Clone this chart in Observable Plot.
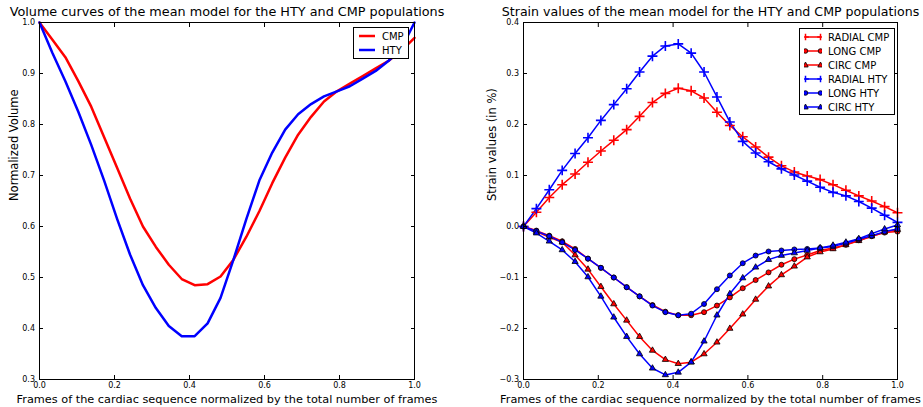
<!DOCTYPE html>
<html><head><meta charset="utf-8">
<script src="https://cdn.jsdelivr.net/npm/d3@7"></script>
<script src="https://cdn.jsdelivr.net/npm/@observablehq/plot@0.6"></script>
<style>
body{margin:0;background:#fff;font-family:"DejaVu Sans",sans-serif;}
#wrap{position:relative;width:923px;height:407px;display:flex;}
.legend{position:absolute;background:#fff;border:1px solid #000;font-size:10px;font-family:"DejaVu Sans",sans-serif;box-sizing:border-box;padding:1px 0;}
.legend .row{display:flex;align-items:center;height:14px;}
.legend svg{display:block;margin:0 6px 0 4px;}
</style></head><body><div id="wrap"></div>
<script>
// normalized frame positions (30 frames)
const frames = d3.range(30).map(i => i / 29);

// Left chart: normalized volume
const volCMP = [1.0,0.966,0.932,0.885,0.835,0.775,0.715,0.655,0.600,0.560,0.525,0.497,0.485,0.487,0.502,0.535,0.580,0.630,0.685,0.735,0.780,0.815,0.845,0.865,0.880,0.895,0.910,0.925,0.945,0.970];
const volHTY = [1.0,0.940,0.885,0.825,0.760,0.690,0.615,0.545,0.485,0.440,0.405,0.385,0.385,0.410,0.460,0.535,0.615,0.690,0.745,0.790,0.820,0.840,0.855,0.865,0.875,0.890,0.905,0.925,0.950,1.0];

// Right chart: strain values
const radialCMP = [0,0.028,0.057,0.082,0.103,0.126,0.148,0.169,0.190,0.216,0.243,0.261,0.271,0.266,0.252,0.224,0.198,0.176,0.156,0.136,0.119,0.107,0.099,0.092,0.082,0.071,0.060,0.050,0.039,0.027];
const longCMP = [0,-0.008,-0.018,-0.029,-0.044,-0.063,-0.081,-0.100,-0.119,-0.137,-0.154,-0.167,-0.174,-0.174,-0.168,-0.155,-0.139,-0.121,-0.105,-0.090,-0.075,-0.064,-0.056,-0.047,-0.042,-0.036,-0.027,-0.019,-0.012,-0.010];
const circCMP = [0,-0.010,-0.021,-0.031,-0.056,-0.084,-0.118,-0.152,-0.184,-0.216,-0.243,-0.261,-0.269,-0.266,-0.250,-0.227,-0.200,-0.172,-0.143,-0.117,-0.095,-0.078,-0.060,-0.050,-0.044,-0.036,-0.028,-0.019,-0.011,-0.006];
const radialHTY = [0,0.035,0.072,0.110,0.143,0.174,0.208,0.239,0.270,0.303,0.334,0.354,0.358,0.340,0.303,0.254,0.205,0.167,0.144,0.127,0.113,0.101,0.089,0.077,0.067,0.060,0.049,0.036,0.022,0.008];
const longHTY = [0,-0.009,-0.019,-0.031,-0.046,-0.063,-0.081,-0.100,-0.119,-0.137,-0.155,-0.168,-0.174,-0.171,-0.152,-0.123,-0.096,-0.072,-0.057,-0.049,-0.047,-0.045,-0.044,-0.042,-0.039,-0.033,-0.025,-0.018,-0.010,-0.005];
const circHTY = [0,-0.013,-0.029,-0.046,-0.069,-0.099,-0.137,-0.178,-0.216,-0.250,-0.278,-0.291,-0.286,-0.266,-0.225,-0.174,-0.132,-0.101,-0.080,-0.065,-0.057,-0.052,-0.047,-0.042,-0.037,-0.031,-0.024,-0.014,-0.005,0.003];

const xTicks = [0.0,0.2,0.4,0.6,0.8,1.0];
const yTicksL = [0.3,0.4,0.5,0.6,0.7,0.8,0.9,1.0];
const yTicksR = [-0.3,-0.2,-0.1,0.0,0.1,0.2,0.3,0.4];

const titleL = "Volume curves of the mean model for the HTY and CMP populations";
const titleR = "Strain values of the mean model for the HTY and CMP populations";
const xLabel = "Frames of the cardiac sequence normalized by the total number of frames";
const yLabelL = "Normalized Volume";
const yLabelR = "Strain values (in %)";

const fmt = d3.format(".1f");

const volSeries = [
  {name:"CMP", color:"#ff0000", values: volCMP},
  {name:"HTY", color:"#0000ff", values: volHTY}
];
const strainSeries = [
  {name:"RADIAL CMP", color:"#ff0000", kind:"plus", values: radialCMP},
  {name:"LONG CMP", color:"#ff0000", kind:"circle", values: longCMP},
  {name:"CIRC CMP", color:"#ff0000", kind:"triangle", values: circCMP},
  {name:"RADIAL HTY", color:"#0000ff", kind:"plus", values: radialHTY},
  {name:"LONG HTY", color:"#0000ff", kind:"circle", values: longHTY},
  {name:"CIRC HTY", color:"#0000ff", kind:"triangle", values: circHTY}
];

function axes(yTicks) {
  return [
    Plot.frame({stroke:"#000", strokeWidth:1}),
    Plot.axisX({anchor:"bottom", ticks:xTicks, tickSize:-4, tickPadding:7, tickFormat:fmt, label:null, fontSize:8}),
    Plot.axisX({anchor:"top", ticks:xTicks, tickSize:-4, tickFormat:() => "", label:null}),
    Plot.axisY({anchor:"left", ticks:yTicks, tickSize:-4, tickPadding:8.5, tickFormat:fmt, label:null, fontSize:8}),
    Plot.axisY({anchor:"right", ticks:yTicks, tickSize:-4, tickFormat:() => "", label:null})
  ];
}

const style = {fontFamily:"DejaVu Sans", fontSize:"8px", color:"#000", background:"#fff", overflow:"visible"};

const left = Plot.plot({
  width:461, height:407, marginLeft:39, marginRight:47, marginTop:22, marginBottom:28,
  x:{domain:[0,1]}, y:{domain:[0.3,1.0]}, style,
  marks:[
    ...volSeries.map(s => Plot.line(s.values.map((v,i) => ({x:frames[i], y:v})), {x:"x", y:"y", stroke:s.color, strokeWidth:2.5})),
    ...axes(yTicksL),
    Plot.text([titleL], {text:d => d, frameAnchor:"top", dy:-11, lineAnchor:"middle", fontSize:12.8}),
    Plot.text([xLabel], {text:d => d, frameAnchor:"bottom", dy:20, lineAnchor:"middle", fontSize:11.3}),
    Plot.text([yLabelL], {text:d => d, frameAnchor:"left", dx:-25, rotate:-90, lineAnchor:"middle", fontSize:11.5})
  ]
});

const right = Plot.plot({
  width:462, height:407, marginLeft:62, marginRight:26, marginTop:22, marginBottom:28,
  x:{domain:[0,1]}, y:{domain:[-0.3,0.4]}, style,
  marks:[
    ...strainSeries.map(s => Plot.line(s.values.map((v,i) => ({x:frames[i], y:v})), {x:"x", y:"y", stroke:s.color, strokeWidth:1.5})),
    ...strainSeries.map(s => {
      const data = s.values.map((v,i) => ({x:frames[i], y:v}));
      if (s.kind === "plus") return Plot.dot(data, {x:"x", y:"y", symbol:"plus", r:3.3, stroke:s.color, strokeWidth:1.6, fill:"none"});
      if (s.kind === "circle") return Plot.dot(data, {x:"x", y:"y", symbol:"circle", r:2.5, fill:s.color, stroke:"#000", strokeWidth:0.8});
      return Plot.dot(data, {x:"x", y:"y", symbol:"triangle", r:2.3, fill:s.color, stroke:"#000", strokeWidth:0.8});
    }),
    ...axes(yTicksR),
    Plot.text([titleR], {text:d => d, frameAnchor:"top", dy:-11, lineAnchor:"middle", fontSize:12.6}),
    Plot.text([xLabel], {text:d => d, frameAnchor:"bottom", dy:20, lineAnchor:"middle", fontSize:11.3}),
    Plot.text([yLabelR], {text:d => d, frameAnchor:"left", dx:-31, rotate:-90, lineAnchor:"middle", fontSize:11.5})
  ]
});

const wrap = document.getElementById("wrap");
wrap.appendChild(left);
wrap.appendChild(right);

function swatch(color, kind) {
  const ns = "http://www.w3.org/2000/svg";
  const svg = document.createElementNS(ns, "svg");
  svg.setAttribute("width", 18); svg.setAttribute("height", 10);
  const line = document.createElementNS(ns, "line");
  line.setAttribute("x1", 1); line.setAttribute("x2", 17); line.setAttribute("y1", 5); line.setAttribute("y2", 5);
  line.setAttribute("stroke", color); line.setAttribute("stroke-width", kind ? 1.5 : 2.5);
  svg.appendChild(line);
  if (kind) {
    for (const cx of [1.5, 16.5]) {
      let el;
      if (kind === "plus") {
        el = document.createElementNS(ns, "path");
        el.setAttribute("d", `M${cx-3.3},5H${cx+3.3}M${cx},1.7V8.3`);
        el.setAttribute("stroke", color); el.setAttribute("stroke-width", 1.5); el.setAttribute("fill", "none");
      } else if (kind === "circle") {
        el = document.createElementNS(ns, "circle");
        el.setAttribute("cx", cx); el.setAttribute("cy", 5); el.setAttribute("r", 2.3);
        el.setAttribute("fill", color); el.setAttribute("stroke", "#000"); el.setAttribute("stroke-width", 0.8);
      } else {
        el = document.createElementNS(ns, "path");
        el.setAttribute("d", `M${cx},2L${cx+2.7},7H${cx-2.7}Z`);
        el.setAttribute("fill", color); el.setAttribute("stroke", "#000"); el.setAttribute("stroke-width", 0.8);
      }
      svg.appendChild(el);
    }
  }
  return svg;
}

function legend(series, box, withMarkers) {
  const div = document.createElement("div");
  div.className = "legend";
  Object.assign(div.style, box);
  for (const s of series) {
    const row = document.createElement("div");
    row.className = "row";
    row.appendChild(swatch(s.color, withMarkers ? s.kind : null));
    const t = document.createElement("span");
    t.textContent = s.name;
    row.appendChild(t);
    div.appendChild(row);
  }
  wrap.appendChild(div);
}
legend(volSeries, {left:"353px", top:"27px", width:"56px", height:"32px", padding:"1px 0"}, false);
legend(strainSeries, {left:"799px", top:"28px", width:"96px", height:"87px", padding:"1px 0"}, true);
</script>
</body></html>
